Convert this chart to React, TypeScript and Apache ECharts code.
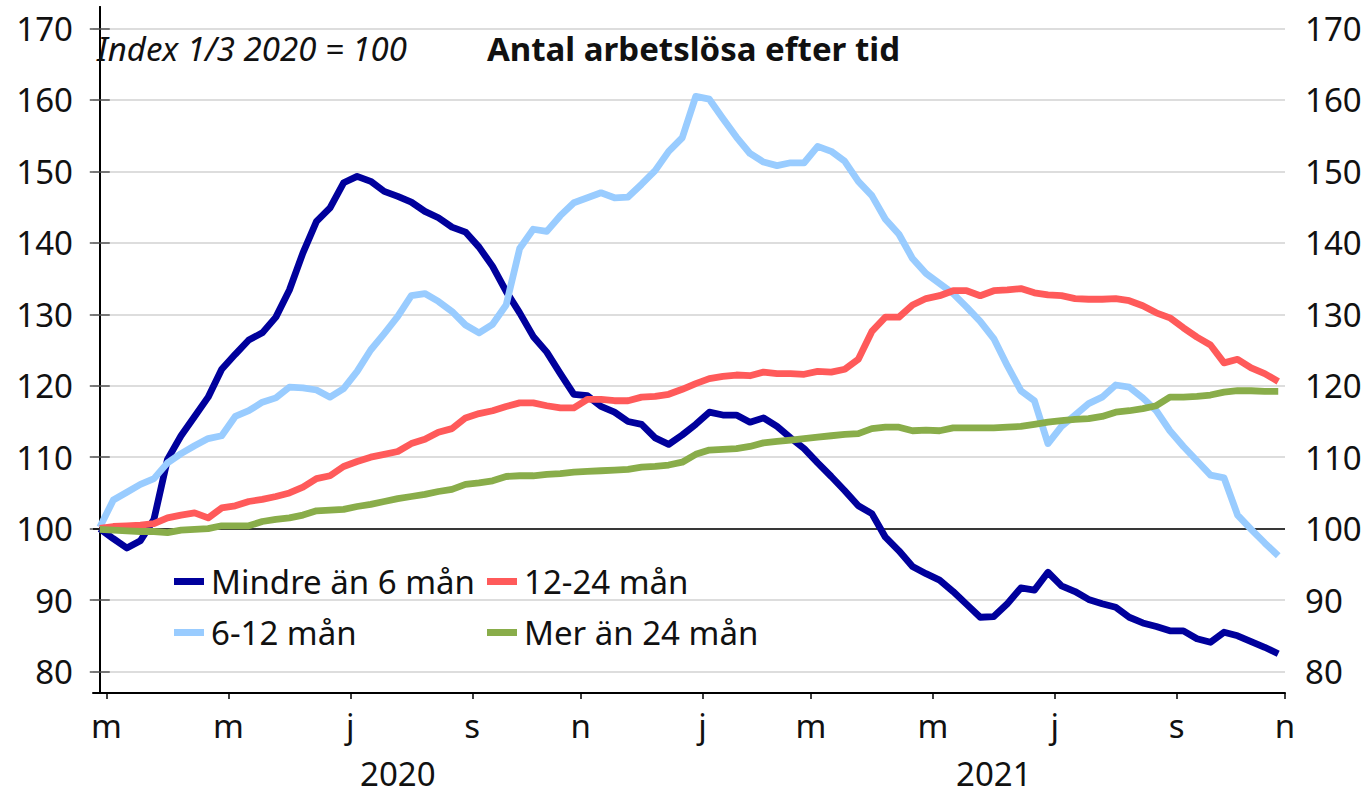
import React, { useEffect, useRef } from "react";
import * as echarts from "echarts";

const FONT = '"Noto Sans", "Open Sans", sans-serif';

// weekly observations, March 2020 .. end of October 2021 (88 weeks), index 1/3 2020 = 100
const mindre6: number[] = [
  100, 98.6, 97.3, 98.3, 101.3, 109.7, 113, 115.7, 118.4, 122.3,
  124.4, 126.4, 127.4, 129.6, 133.4, 138.6, 143, 144.9, 148.4, 149.3,
  148.6, 147.2, 146.5, 145.7, 144.4, 143.5, 142.2, 141.5, 139.4, 136.7,
  133.2, 130.2, 126.9, 124.7, 121.7, 118.8, 118.6, 117.1, 116.3, 115.0,
  114.6, 112.7, 111.8, 113.1, 114.6, 116.3, 115.9, 115.9, 114.9, 115.5,
  114.3, 112.7, 111.2, 109.2, 107.3, 105.3, 103.2, 102.1, 98.8, 96.9,
  94.7, 93.7, 92.8, 91.2, 89.4, 87.6, 87.7, 89.5, 91.7, 91.4,
  93.9, 92.0, 91.2, 90.1, 89.5, 89.0, 87.6, 86.8, 86.3, 85.7,
  85.7, 84.6, 84.1, 85.5, 85.0, 84.2, 83.4, 82.5,
];
const man6_12: number[] = [
  100.2, 104, 105.1, 106.2, 107, 109.2, 110.5, 111.6, 112.6, 113,
  115.7, 116.5, 117.7, 118.3, 119.8, 119.7, 119.4, 118.4, 119.6, 122,
  125, 127.3, 129.7, 132.6, 132.9, 131.8, 130.4, 128.5, 127.4, 128.6,
  131.3, 139.2, 141.9, 141.6, 143.8, 145.6, 146.3, 147, 146.3, 146.4,
  148.2, 150.1, 152.8, 154.7, 160.5, 160.1, 157.4, 154.8, 152.5, 151.3,
  150.8, 151.2, 151.2, 153.5, 152.8, 151.4, 148.6, 146.6, 143.3, 141.2,
  137.8, 135.7, 134.3, 132.9, 131, 129, 126.6, 122.8, 119.3, 117.9,
  111.9, 114.3, 115.9, 117.5, 118.4, 120.1, 119.8, 118.3, 116.5, 113.7,
  111.5, 109.5, 107.5, 107.1, 101.9, 99.9, 98, 96.2,
];
const man12_24: number[] = [
  100.05, 100.3, 100.4, 100.5, 100.7, 101.5, 101.9, 102.2, 101.5, 102.9,
  103.2, 103.8, 104.1, 104.5, 105, 105.8, 107, 107.4, 108.7, 109.4,
  110, 110.4, 110.8, 111.9, 112.5, 113.5, 114, 115.5, 116.1, 116.5,
  117.1, 117.6, 117.6, 117.2, 116.9, 116.9, 118.1, 118.1, 117.9, 117.9,
  118.4, 118.5, 118.8, 119.5, 120.3, 121, 121.3, 121.5, 121.4, 121.9,
  121.7, 121.7, 121.6, 122, 121.9, 122.3, 123.7, 127.6, 129.6, 129.6,
  131.3, 132.2, 132.6, 133.3, 133.3, 132.6, 133.3, 133.4, 133.6, 133,
  132.7, 132.6, 132.2, 132.1, 132.1, 132.2, 131.9, 131.2, 130.2, 129.5,
  128.1, 126.8, 125.7, 123.2, 123.7, 122.5, 121.7, 120.6,
];
const mer24: number[] = [
  99.9, 99.8, 99.7, 99.6, 99.6, 99.45, 99.8, 99.9, 100, 100.4,
  100.4, 100.4, 101, 101.3, 101.5, 101.9, 102.5, 102.6, 102.7, 103.1,
  103.4, 103.8, 104.2, 104.5, 104.8, 105.2, 105.5, 106.2, 106.4, 106.7,
  107.3, 107.4, 107.4, 107.6, 107.7, 107.9, 108, 108.1, 108.2, 108.3,
  108.6, 108.7, 108.9, 109.3, 110.4, 111, 111.1, 111.2, 111.5, 112,
  112.2, 112.4, 112.6, 112.8, 113, 113.2, 113.3, 114, 114.2, 114.2,
  113.7, 113.8, 113.7, 114.1, 114.1, 114.1, 114.1, 114.2, 114.3, 114.6,
  114.9, 115.1, 115.3, 115.4, 115.7, 116.3, 116.5, 116.8, 117.2, 118.4,
  118.4, 118.5, 118.7, 119.1, 119.3, 119.3, 119.2, 119.2,
];

// month ticks (week positions) and their labels
const monthTickPos: number[] = [0.5, 9.5, 18.5, 27.5, 35.5, 44.5, 52.5, 61.5, 70.5, 79.5, 87.5];
const monthTickLabels: string[] = ["m", "m", "j", "s", "n", "j", "m", "m", "j", "s", "n"];
const yearPos: number[] = [22, 66];
const yearLabels: string[] = ["2020", "2021"];
const yTicks: number[] = [80, 90, 100, 110, 120, 130, 140, 150, 160, 170];

const seriesNames = ["Mindre än 6 mån", "6-12 mån", "12-24 mån", "Mer än 24 mån"];
const seriesColors = ["#00009C", "#99CCFF", "#FF5A5A", "#89AD4A"];
const seriesData = [mindre6, man6_12, man12_24, mer24];

const FS = 33;

function labelFor(pos: number[], labels: string[]) {
  return (v: number) => {
    const k = pos.findIndex((p) => Math.abs(p - v) < 1e-6);
    return k >= 0 ? labels[k] : "";
  };
}

export default function App() {
  const ref = useRef<HTMLDivElement>(null);
  useEffect(() => {
    if (!ref.current) return;
    const chart = echarts.init(ref.current, undefined, { renderer: "svg" });
    const yAxisCommon = {
      type: "value",
      min: 77,
      max: 173,
      axisLine: { show: true, lineStyle: { color: "#000", width: 2 } },
      axisTick: { show: true, customValues: yTicks, length: 10, lineStyle: { color: "#555", width: 1.5 } },
      axisLabel: { customValues: yTicks, fontSize: FS, fontFamily: FONT, color: "#111", margin: 20 },
    };
    const legendCommon = {
      orient: "vertical",
      top: 558,
      icon: "rect",
      itemWidth: 30,
      itemHeight: 7,
      itemGap: 14,
      selectedMode: false,
      textStyle: { fontFamily: FONT, fontSize: FS, color: "#111", lineHeight: 37, padding: [0, 0, 0, 2] },
    };
    const option: any = {
      animation: false,
      grid: { left: 93, right: 83, top: 7, bottom: 101, containLabel: false },
      title: [
        {
          text: "Antal arbetslösa efter tid",
          left: 482,
          top: 27,
          textStyle: { fontFamily: FONT, fontWeight: "bold", fontSize: FS, color: "#111" },
        },
        {
          text: "Index 1/3 2020 = 100",
          left: 92,
          top: 27,
          textStyle: { fontFamily: FONT, fontWeight: "normal", fontStyle: "italic", fontSize: FS, color: "#111" },
        },
      ],
      legend: [
        { ...legendCommon, data: [seriesNames[0], seriesNames[1]], left: 169 },
        { ...legendCommon, data: [seriesNames[2], seriesNames[3]], left: 482 },
      ],
      xAxis: [
        {
          type: "value",
          min: -0.5,
          max: 87.5,
          axisLine: { show: true, onZero: false, lineStyle: { color: "#000", width: 2 } },
          axisTick: { show: true, customValues: monthTickPos, length: 6, lineStyle: { color: "#000", width: 1.5 } },
          axisLabel: {
            customValues: monthTickPos,
            formatter: labelFor(monthTickPos, monthTickLabels),
            fontSize: FS,
            fontFamily: FONT,
            color: "#111",
            margin: 16,
          },
          splitLine: { show: false },
        },
        {
          type: "value",
          min: -0.5,
          max: 87.5,
          position: "bottom",
          offset: 48,
          axisLine: { show: false },
          axisTick: { show: false },
          axisLabel: {
            customValues: yearPos,
            formatter: labelFor(yearPos, yearLabels),
            fontSize: FS,
            lineHeight: 28,
            fontFamily: FONT,
            color: "#111",
            margin: 18,
          },
          splitLine: { show: false },
        },
      ],
      yAxis: [
        {
          ...yAxisCommon,
          position: "left",
          splitLine: { show: true, lineStyle: { color: "#d2d2d2", width: 1.5 } },
        },
        {
          ...yAxisCommon,
          position: "right",
          splitLine: { show: false },
        },
      ],
      series: [
        ...seriesData.map((vals, k) => ({
          name: seriesNames[k],
          type: "line",
          xAxisIndex: 0,
          yAxisIndex: 0,
          data: vals.map((v, i) => [i, v]),
          showSymbol: false,
          symbol: "none",
          z: 3,
          lineStyle: { color: seriesColors[k], width: 6.8, join: "round" },
          itemStyle: { color: seriesColors[k] },
        })),
        {
          name: "base",
          type: "line",
          data: [],
          z: 1,
          markLine: {
            silent: true,
            symbol: "none",
            z: 1,
            label: { show: false },
            lineStyle: { color: "#000", width: 1.5, type: "solid" },
            data: [{ yAxis: 100 }],
          },
        },
      ],
    };
    chart.setOption(option);
    return () => chart.dispose();
  }, []);
  return <div ref={ref} style={{ width: 1368, height: 794, position: "absolute", left: 0, top: 0 }} />;
}
